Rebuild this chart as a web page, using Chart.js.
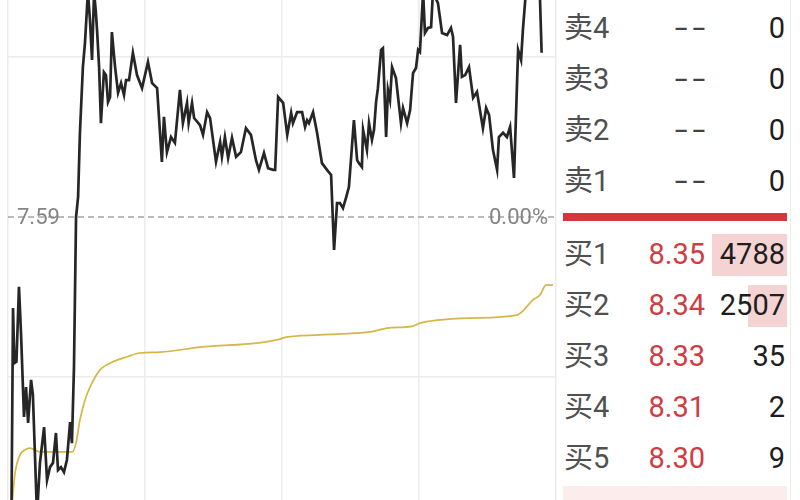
<!DOCTYPE html>
<html>
<head>
<meta charset="utf-8">
<script src="https://cdn.jsdelivr.net/npm/chart.js@4.4.1/dist/chart.umd.min.js"></script>
<style>
  body { margin: 0; background: #fff; }
  #wrap { position: relative; width: 800px; height: 500px; overflow: hidden; background: #fff;
          font-family: Roboto, "Noto Sans CJK SC", sans-serif; }
  #chart { position: absolute; left: 0; top: -103px; }
  .cell { position: absolute; font-size: 29px; line-height: 32px; white-space: nowrap; }
  .lab { left: 564px; color: #505050; }
  .prc { right: 95px; text-align: right; }
  .vol { right: 15px; text-align: right; color: #1e1e1e; }
  .bar { position: absolute; background: #f6d3d3; }
</style>
</head>
<body>
<div id="wrap">
  <canvas id="chart" width="560" height="640"></canvas>
</div>
<script>
// intraday price, minutes from open (0..240)
const minutes = [1.5,2.2,2.8,3.7,4.8,5.7,7.0,7.9,8.8,10.1,
  10.9,12.7,14.0,15.8,17.1,18.4,19.7,21.0,21.9,23.2,
  24.5,25.8,27.2,28.0,28.9,29.8,30.7,31.5,32.8,33.7,
  35.0,35.9,36.8,37.7,38.5,39.0,39.9,40.7,42.0,42.9,
  43.8,44.7,45.5,46.9,48.2,49.5,50.8,51.7,53.0,54.7,
  56.5,58.7,61.3,63.1,65.3,67.4,68.3,69.6,71.4,73.1,
  75.3,76.6,78.4,79.1,80.6,81.5,84.1,85.4,87.2,88.5,
  91.1,92.9,93.7,95.0,96.4,98.1,99.9,102.0,104.2,106.4,
  108.6,109.9,112.1,113.9,116.1,117.0,118.3,120.5,122.3,124.0,
  124.8,126.6,128.8,130.1,131.0,131.8,133.6,135.3,137.5,139.7,
  141.5,142.8,144.1,145.4,146.7,148.0,149.3,151.5,152.9,153.7,
  155.0,155.5,157.2,158.1,159.4,160.3,161.2,162.0,163.4,164.2,
  165.6,166.4,167.3,168.2,169.9,172.1,173.0,174.8,176.1,177.4,
  178.7,179.6,180.4,181.8,182.6,183.9,185.3,186.1,188.3,190.1,
  192.3,194.0,194.9,196.2,198.0,198.8,200.2,201.9,203.7,205.4,
  208.0,209.4,210.7,212.4,214.2,215.0,216.8,218.5,219.9,221.6,
  223.4,224.7,225.5,226.8,232.9,233.7];
const prices = [6.870,7.374,7.243,7.246,7.424,7.314,7.115,7.186,7.101,7.203,
  7.168,6.882,7.006,7.091,6.965,6.996,7.006,7.077,6.989,6.996,
  6.984,7.013,7.103,7.053,7.234,7.590,7.638,7.790,7.946,8.003,
  8.124,8.058,7.963,8.124,8.075,8.034,7.946,7.813,7.934,7.927,
  7.863,7.875,8.029,7.946,7.885,7.908,7.880,7.915,7.915,7.980,
  7.927,7.896,7.958,7.908,7.896,7.721,7.828,7.744,7.780,7.766,
  7.892,7.813,7.861,7.813,7.861,7.825,7.808,7.785,7.839,7.825,
  7.721,7.768,7.733,7.780,7.730,7.778,7.733,7.744,7.801,7.785,
  7.725,7.702,7.742,7.706,7.702,7.702,7.875,7.861,7.785,7.837,
  7.813,7.839,7.839,7.804,7.820,7.813,7.839,7.792,7.718,7.702,
  7.690,7.512,7.623,7.623,7.611,7.635,7.661,7.820,7.725,7.718,
  7.709,7.797,7.749,7.813,7.773,7.797,7.863,7.896,7.987,7.991,
  7.780,7.892,7.868,7.946,7.920,7.813,7.849,7.813,7.844,7.932,
  7.944,7.987,7.982,8.124,8.027,8.039,8.041,8.124,8.098,8.027,
  8.022,8.039,8.018,7.861,7.999,7.923,7.927,7.946,7.873,7.887,
  7.801,7.849,7.832,7.749,7.702,7.780,7.790,7.780,7.804,7.683,
  7.987,7.963,8.034,8.124,8.124,7.980];

// yellow average line
const avgMinutes = [1.75,3.1,5.3,7.4,9.6,14.0,22.8,28.0,29.8,31.5,33.7,35.9,40.3,46.0,52.1,
  57.8,66.6,84.1,119.1,120.4,136.6,158.5,166.0,177.4,180.4,187.9,202.3,222.9,225.5,229.9,233.0,235.6,238.7];
const avgPrices = [6.906,6.982,7.025,7.037,7.041,7.032,7.032,7.032,7.053,7.108,7.155,7.186,7.227,7.246,7.258,
  7.267,7.269,7.281,7.300,7.303,7.310,7.317,7.326,7.331,7.338,7.345,7.350,7.357,7.367,7.393,7.405,7.428,7.428];

const prevClose = 7.59;
const xTicks = [0, 60, 120, 180, 240];
const yTicks = [6.83, 7.21, 7.59, 7.97, 8.35];

// order book
const bookLabels = ['卖4', '卖3', '卖2', '卖1', '买1', '买2', '买3', '买4', '买5'];
const bookPrices = ['--', '--', '--', '--', '8.35', '8.34', '8.33', '8.31', '8.30'];
const bookVolumes = [0, 0, 0, 0, 4788, 2507, 35, 2, 9];

const refLabels = {
  id: 'refLabels',
  afterDatasetsDraw(chart) {
    const { ctx, chartArea, scales } = chart;
    const y = scales.y.getPixelForValue(prevClose);
    ctx.save();
    ctx.font = '22px Roboto';
    ctx.fillStyle = '#858585';
    ctx.textBaseline = 'middle';
    ctx.textAlign = 'left';
    ctx.fillText(prevClose.toFixed(2), chartArea.left + 9, y + 1);
    ctx.textAlign = 'right';
    ctx.fillText('0.00%', chartArea.right - 8, y + 1);
    ctx.restore();
  }
};

new Chart(document.getElementById('chart'), {
  type: 'line',
  data: {
    datasets: [
      {
        data: minutes.map((m, i) => ({ x: m, y: prices[i] })),
        borderColor: '#262626',
        borderWidth: 2.7,
        pointRadius: 0,
        tension: 0,
        order: 0
      },
      {
        data: avgMinutes.map((m, i) => ({ x: m, y: avgPrices[i] })),
        borderColor: '#d6b646',
        borderWidth: 1.7,
        pointRadius: 0,
        cubicInterpolationMode: 'monotone',
        order: 1
      },
      {
        data: [{ x: xTicks[0], y: prevClose }, { x: xTicks[xTicks.length - 1], y: prevClose }],
        borderColor: '#a5a5a5',
        borderWidth: 1.3,
        borderDash: [6, 4],
        pointRadius: 0,
        order: 2
      }
    ]
  },
  options: {
    responsive: false,
    animation: false,
    layout: { padding: { left: 8, right: 4, top: 0, bottom: 0 } },
    plugins: { legend: { display: false }, tooltip: { enabled: false } },
    scales: {
      x: {
        type: 'linear',
        min: xTicks[0],
        max: xTicks[xTicks.length - 1],
        afterBuildTicks: s => { s.ticks = xTicks.map(v => ({ value: v })); },
        ticks: { display: false },
        grid: { color: '#ececec', lineWidth: 1.5, drawTicks: false },
        border: { display: false }
      },
      y: {
        min: yTicks[0],
        max: yTicks[yTicks.length - 1],
        afterBuildTicks: s => { s.ticks = yTicks.map(v => ({ value: v })); },
        ticks: { display: false },
        grid: {
          color: c => (c.tick && Math.abs(c.tick.value - prevClose) < 1e-6) ? 'rgba(0,0,0,0)' : '#ececec',
          lineWidth: 1.5,
          drawTicks: false
        },
        border: { display: false }
      }
    }
  },
  plugins: [refLabels]
});

// right panel
const wrap = document.getElementById('wrap');
function add(cls, text, top, style) {
  const d = document.createElement('div');
  d.className = cls;
  d.textContent = text;
  d.style.top = top + 'px';
  if (style) Object.assign(d.style, style);
  wrap.appendChild(d);
  return d;
}
const maxVol = Math.max(...bookVolumes);
bookLabels.forEach((lab, i) => {
  const isBuy = lab.startsWith('买');
  const center = isBuy ? 255 + (i - 4) * 51 : 29 + i * 51;
  const v = bookVolumes[i];
  const w = Math.floor(v / maxVol * 75);
  if (isBuy && w > 0) {
    const b = document.createElement('div');
    b.className = 'bar';
    Object.assign(b.style, { left: (787 - w) + 'px', width: w + 'px', top: (center - 21) + 'px', height: '42px' });
    wrap.appendChild(b);
  }
  add('cell lab', lab, center - 17);
  const p = bookPrices[i];
  if (p === '--') {
    add('cell prc', p, center - 17, {
      color: '#444', letterSpacing: '3px', right: '90px',
      transform: 'scaleX(1.6)', transformOrigin: 'right center'
    });
  } else {
    add('cell prc', p, center - 17, { color: '#d13c43' });
  }
  add('cell vol', String(v), center - 17);
});

// divider, borders, next block edge
const red = document.createElement('div');
Object.assign(red.style, { position: 'absolute', left: '563px', width: '224px', top: '213px', height: '8px', background: '#d8363d' });
wrap.appendChild(red);
const rb = document.createElement('div');
Object.assign(rb.style, { position: 'absolute', left: '790px', width: '1px', top: '0', height: '500px', background: '#ececec' });
wrap.appendChild(rb);
const pk = document.createElement('div');
Object.assign(pk.style, { position: 'absolute', left: '563px', width: '224px', top: '486px', height: '14px', background: '#fcecec' });
wrap.appendChild(pk);
</script>
</body>
</html>
